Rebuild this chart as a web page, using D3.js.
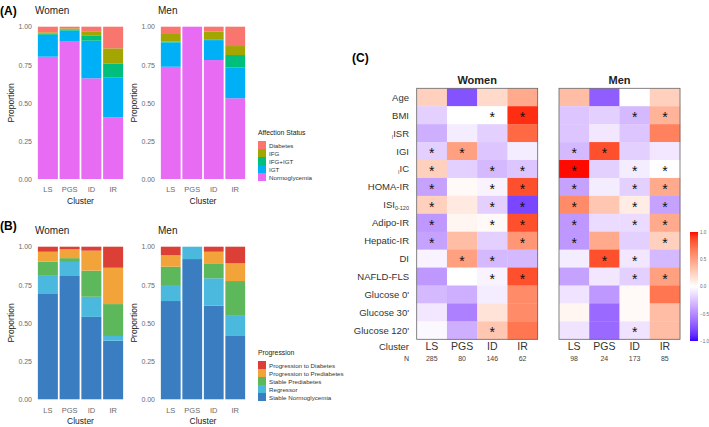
<!DOCTYPE html>
<html>
<head>
<meta charset="utf-8">
<script src="https://cdn.jsdelivr.net/npm/d3@7"></script>
<style>
  body { margin: 0; background: #fff; }
  svg { font-family: "Liberation Sans", Arial, sans-serif; }
</style>
</head>
<body>
<svg id="fig" width="709" height="427"></svg>
<script>
// ********************** //
//          Data          //
// ********************** //

var clusters = ['LS', 'PGS', 'ID', 'IR'];

// panel A: affection status (bottom to top)
var statusKeys = ['Normoglycemia', 'IGT', 'IFG+IGT', 'IFG', 'Diabetes'];
var statusColors = ['#E76BF3', '#00B0F6', '#00BF7D', '#A3A500', '#F8766D'];
var statusWomen = [
    [0.803, 0.144, 0.008, 0.008, 0.037],
    [0.902, 0.072, 0.006, 0.009, 0.011],
    [0.661, 0.247, 0.032, 0.030, 0.030],
    [0.405, 0.260, 0.094, 0.099, 0.142]
];
var statusMen = [
    [0.737, 0.160, 0.005, 0.050, 0.048],
    [1.000, 0.000, 0.000, 0.000, 0.000],
    [0.781, 0.131, 0.005, 0.050, 0.033],
    [0.530, 0.201, 0.083, 0.059, 0.127]
];

// panel B: progression (bottom to top)
var progKeys = ['Stable Normoglycemia', 'Regressor', 'Stable Prediabetes', 'Progression to Prediabetes', 'Progression to Diabetes'];
var progColors = ['#3B7DC1', '#4BB8DE', '#5DB85C', '#F2A33A', '#DC3F36'];
var progWomen = [
    [0.690, 0.124, 0.088, 0.065, 0.033],
    [0.808, 0.092, 0.025, 0.058, 0.017],
    [0.540, 0.132, 0.171, 0.131, 0.026],
    [0.384, 0.031, 0.209, 0.238, 0.138]
];
var progMen = [
    [0.644, 0.105, 0.120, 0.076, 0.055],
    [0.919, 0.081, 0.000, 0.000, 0.000],
    [0.614, 0.179, 0.098, 0.076, 0.033],
    [0.415, 0.137, 0.223, 0.116, 0.109]
];

// panel C: correlation heatmap
var traits = ['Age', 'BMI', 'ISR', 'IGI', 'IC', 'HOMA-IR', 'ISI', 'Adipo-IR', 'Hepatic-IR', 'DI', 'NAFLD-FLS', "Glucose 0'", "Glucose 30'", "Glucose 120'"];
var heatWomen = [
    [0.25, -0.75, 0.20, 0.45],
    [-0.20, 0.00, 0.00, 0.95],
    [-0.35, -0.08, -0.20, 0.75],
    [-0.20, 0.50, -0.25, -0.08],
    [0.25, -0.20, -0.30, -0.25],
    [-0.40, 0.03, -0.05, 0.85],
    [0.25, 0.12, -0.20, -0.80],
    [-0.45, 0.05, 0.03, 0.85],
    [-0.40, 0.35, -0.20, 0.55],
    [-0.05, 0.50, -0.30, -0.30],
    [-0.45, 0.00, -0.05, 0.85],
    [-0.30, -0.35, -0.08, 0.60],
    [-0.10, -0.55, 0.15, 0.60],
    [-0.03, -0.35, 0.30, 0.70]
];
var heatMen = [
    [0.35, -0.70, 0.00, 0.25],
    [-0.25, -0.20, -0.30, 0.40],
    [-0.25, -0.10, -0.25, 0.65],
    [-0.30, 0.85, -0.20, -0.10],
    [1.00, -0.20, -0.08, 0.00],
    [-0.40, -0.08, -0.20, 0.45],
    [0.60, 0.30, 0.10, -0.40],
    [-0.45, -0.15, -0.15, 0.45],
    [-0.45, 0.45, -0.20, 0.25],
    [-0.08, 0.85, -0.10, -0.30],
    [-0.40, -0.10, -0.20, 0.50],
    [-0.12, -0.45, 0.03, 0.70],
    [0.05, -0.65, 0.03, 0.35],
    [-0.12, -0.65, -0.12, 0.35]
];
// significance marks (same for both sexes)
var starsWomen = [
    [0,0,0,0],[0,0,1,1],[0,0,0,0],[1,1,0,0],[1,0,1,1],[1,0,1,1],[1,0,1,1],
    [1,0,1,1],[1,0,0,1],[0,1,1,0],[0,0,1,1],[0,0,0,0],[0,0,0,0],[0,0,1,0]
];
var starsMen = starsWomen;
var nWomen = [285, 80, 146, 62];
var nMen = [98, 24, 173, 85];
var barTicks = [0, 0.25, 0.5, 0.75, 1];
var colorTicks = [1, 0.5, 0, -0.5, -1];

var svg = d3.select('#fig');
var grey = '#6b6b6b';

// ********************** //
//     Stacked bars       //
// ********************** //

function stackedPanel(x0, x1, yTop, yBot, values, colors, title, labelX) {
    var g = svg.append('g');
    var x = d3.scaleBand().domain(clusters).range([x0, x1]).paddingInner(0.08).paddingOuter(0.04);
    var y = d3.scaleLinear().domain([0, 1]).range([yBot, yTop]);

    clusters.forEach(function(c, i) {
        var cum = 0;
        values[i].forEach(function(v, k) {
            if (v <= 0) return;
            g.append('rect')
                .attr('x', x(c)).attr('width', x.bandwidth())
                .attr('y', y(cum + v)).attr('height', y(cum) - y(cum + v))
                .attr('fill', colors[k]);
            cum += v;
        });
    });

    var yAxis = d3.axisLeft(y).tickValues(barTicks).tickFormat(d3.format('.2f')).tickSize(0).tickPadding(5);
    var ya = g.append('g').attr('transform', 'translate(' + x0 + ',0)').call(yAxis);
    ya.select('.domain').remove();
    ya.selectAll('text').attr('fill', grey).style('font-size', '7px');

    var xAxis = d3.axisBottom(x).tickSize(0).tickPadding(8);
    var xa = g.append('g').attr('transform', 'translate(0,' + yBot + ')').call(xAxis);
    xa.select('.domain').remove();
    xa.selectAll('text').attr('fill', grey).style('font-size', '7.5px');

    g.append('text').attr('x', x0 - 2).attr('y', yTop - 13)
        .style('font-size', '10px').attr('fill', '#222').text(title);

    g.append('text')
        .attr('transform', 'translate(' + labelX + ',' + ((yTop + yBot) / 2) + ') rotate(-90)')
        .attr('text-anchor', 'middle').style('font-size', '8.5px').attr('fill', '#222')
        .text('Proportion');

    g.append('text').attr('x', (x0 + x1) / 2).attr('y', yBot + 25)
        .attr('text-anchor', 'middle').style('font-size', '8.5px').attr('fill', '#222')
        .text('Cluster');
}

function legend(x, y, title, keys, colors) {
    var g = svg.append('g').attr('transform', 'translate(' + x + ',' + y + ')');
    g.append('text').attr('x', 0).attr('y', 0).style('font-size', '6.8px').attr('fill', '#222').text(title);
    var rev = keys.slice().reverse();
    var revC = colors.slice().reverse();
    rev.forEach(function(k, i) {
        g.append('rect').attr('x', 0).attr('y', 6 + i * 8).attr('width', 8).attr('height', 8).attr('fill', revC[i]);
        g.append('text').attr('x', 11).attr('y', 12.5 + i * 8).style('font-size', '6.2px').attr('fill', '#333').text(k);
    });
}

stackedPanel(37, 124, 26.7, 179, statusWomen, statusColors, 'Women', 14);
stackedPanel(160, 246, 26.7, 179, statusMen, statusColors, 'Men', 137);
legend(258, 135, 'Affection Status', statusKeys, statusColors);

stackedPanel(37, 124, 246.7, 399.3, progWomen, progColors, 'Women', 14);
stackedPanel(160, 246, 246.7, 399.3, progMen, progColors, 'Men', 137);
legend(258, 355, 'Progression', progKeys, progColors);

svg.append('text').attr('x', 0).attr('y', 15).style('font-size', '12px').style('font-weight', 'bold').text('(A)');
svg.append('text').attr('x', 0).attr('y', 230).style('font-size', '12px').style('font-weight', 'bold').text('(B)');
svg.append('text').attr('x', 352).attr('y', 62).style('font-size', '12px').style('font-weight', 'bold').text('(C)');

// ********************** //
//        Heatmap         //
// ********************** //

var color = d3.scaleLinear().domain([-1, 0, 1]).range(['#3a00ff', '#ffffff', '#ff0a00'])
    .interpolate(d3.interpolateLab);
var hy = d3.scaleBand().domain(traits).range([88.3, 339.3]);

function heatPanel(x0, x1, values, stars, ns, title) {
    var g = svg.append('g');
    var hx = d3.scaleBand().domain(clusters).range([x0, x1]);
    traits.forEach(function(t, r) {
        clusters.forEach(function(c, j) {
            g.append('rect')
                .attr('x', hx(c)).attr('y', hy(t))
                .attr('width', hx.bandwidth() + 0.3).attr('height', hy.bandwidth() + 0.3)
                .attr('fill', color(values[r][j]));
            if (stars[r][j]) {
                g.append('text')
                    .attr('x', hx(c) + hx.bandwidth() / 2).attr('y', hy(t) + hy.bandwidth() / 2 + 7)
                    .attr('text-anchor', 'middle').style('font-size', '14px').attr('fill', '#111')
                    .text('*');
            }
        });
    });
    g.append('rect').attr('x', x0).attr('y', 88.3).attr('width', x1 - x0).attr('height', 251)
        .attr('fill', 'none').attr('stroke', '#666').attr('stroke-width', 0.8);
    g.append('text').attr('x', (x0 + x1) / 2).attr('y', 84).attr('text-anchor', 'middle')
        .style('font-size', '11px').style('font-weight', 'bold').attr('fill', '#222').text(title);
    clusters.forEach(function(c, j) {
        var cx = hx(c) + hx.bandwidth() / 2;
        g.append('text').attr('x', cx).attr('y', 350).attr('text-anchor', 'middle')
            .style('font-size', '10.5px').attr('fill', '#333').text(c);
        g.append('text').attr('x', cx).attr('y', 360.5).attr('text-anchor', 'middle')
            .style('font-size', '7px').attr('fill', '#444').text(ns[j]);
    });
}

heatPanel(416.7, 537.7, heatWomen, starsWomen, nWomen, 'Women');
heatPanel(559, 680, heatMen, starsMen, nMen, 'Men');

// row labels
var rl = svg.append('g');
traits.forEach(function(t) {
    var txt = rl.append('text').attr('x', 409).attr('y', hy(t) + hy.bandwidth() / 2 + 3.5)
        .attr('text-anchor', 'end').style('font-size', '9.5px').attr('fill', '#333');
    if (t === 'ISR' || t === 'IC') {
        txt.append('tspan').style('font-size', '5px').attr('dy', 2).text('I');
        txt.append('tspan').attr('dy', -2).text(t);
    } else if (t === 'ISI') {
        txt.append('tspan').text('ISI');
        txt.append('tspan').style('font-size', '5.5px').attr('dy', 2).text('0-120');
    } else {
        txt.text(t);
    }
});
rl.append('text').attr('x', 409).attr('y', 350).attr('text-anchor', 'end')
    .style('font-size', '9.5px').attr('fill', '#333').text('Cluster');
rl.append('text').attr('x', 409).attr('y', 360.5).attr('text-anchor', 'end')
    .style('font-size', '7px').attr('fill', '#333').text('N');

// color bar
var defs = svg.append('defs');
var grad = defs.append('linearGradient').attr('id', 'cbar').attr('x1', 0).attr('x2', 0).attr('y1', 0).attr('y2', 1);
d3.range(0, 1.0001, 0.05).forEach(function(f) {
    grad.append('stop').attr('offset', (f * 100) + '%').attr('stop-color', color(1 - 2 * f));
});
var cy = d3.scaleLinear().domain([-1, 1]).range([341, 232]);
svg.append('rect').attr('x', 690).attr('y', cy(1)).attr('width', 8).attr('height', cy(-1) - cy(1)).attr('fill', 'url(#cbar)');
var cAxis = d3.axisRight(cy).tickValues(colorTicks).tickFormat(d3.format('.1f')).tickSize(0).tickPadding(2);
var ca = svg.append('g').attr('transform', 'translate(698,0)').call(cAxis);
ca.select('.domain').remove();
ca.selectAll('text').attr('fill', grey).style('font-size', '4.5px');
</script>
</body>
</html>
